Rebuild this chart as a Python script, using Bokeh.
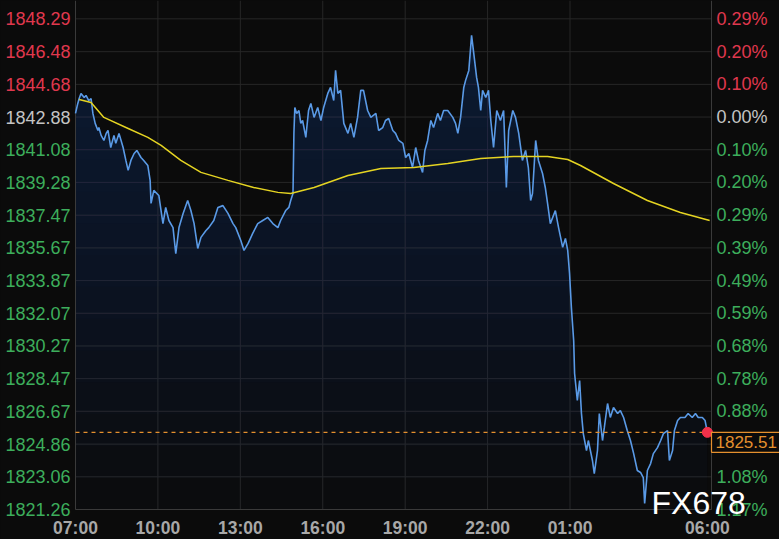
import numpy as np
from bokeh.plotting import figure
from bokeh.models import ColumnDataSource, LabelSet, Label
from bokeh.core.properties import value
from bokeh.embed import file_html
from bokeh.resources import INLINE

# ---------------- data (minutes since 07:00, gold price) ----------------
price_minutes = [
    0, 5, 8, 12, 19, 23, 29, 34, 38, 43,
    49, 51, 56, 62, 67, 71, 77, 84, 88, 95,
    104, 110, 115, 121, 128, 134, 143, 149, 158, 163,
    165, 171, 182, 191, 197, 204, 213, 219, 226, 235,
    245, 252, 259, 267, 274, 285, 291, 302, 311, 322,
    333, 344, 350, 361, 368, 377, 387, 398, 409, 420,
    431, 442, 448, 459, 466, 470, 475, 477, 479, 483,
    488, 492, 496, 503, 509, 514, 521, 529, 536, 542,
    551, 557, 564, 568, 573, 579, 586, 595, 601, 608,
    616, 623, 629, 638, 645, 656, 662, 671, 677, 684,
    693, 699, 706, 715, 721, 728, 736, 743, 749, 758,
    763, 769, 776, 782, 791, 797, 804, 813, 824, 830,
    835, 841, 848, 852, 859, 865, 869, 876, 880, 885,
    889, 896, 902, 907, 913, 920, 928, 935, 941, 946,
    955, 961, 968, 976, 983, 989, 994, 998, 1005, 1011,
    1020, 1026, 1031, 1037, 1048, 1055, 1064, 1070, 1075, 1079,
    1083, 1088, 1090, 1096, 1101, 1105, 1109, 1116, 1120, 1129,
    1133, 1140, 1144, 1151, 1155, 1162, 1168, 1175, 1184, 1190,
    1197, 1205, 1212, 1219, 1227, 1234, 1240, 1243, 1249, 1256,
    1262, 1271, 1278, 1284, 1293, 1297, 1304, 1308, 1315, 1321,
    1331, 1338, 1347, 1354, 1360, 1369, 1375, 1380,
]
price_values = [
    1843.08, 1843.63, 1843.90, 1844.18, 1843.96, 1844.07, 1843.79, 1843.90, 1843.08, 1842.53,
    1842.14, 1842.30, 1841.87, 1841.59, 1841.98, 1842.14, 1841.20, 1841.87, 1841.43, 1841.98,
    1841.20, 1840.49, 1839.94, 1840.49, 1840.87, 1841.04, 1840.65, 1840.49, 1840.21, 1839.39,
    1838.12, 1838.84, 1838.56, 1837.01, 1837.90, 1837.18, 1836.79, 1835.36, 1836.79, 1837.57,
    1838.28, 1837.73, 1837.01, 1835.64, 1836.25, 1836.63, 1836.79, 1837.18, 1837.90, 1838.00,
    1837.57, 1837.01, 1836.79, 1836.08, 1835.53, 1835.92, 1836.47, 1837.01, 1837.18, 1837.35,
    1837.01, 1836.79, 1837.18, 1837.73, 1837.90, 1838.28, 1838.67, 1841.98, 1843.41, 1843.08,
    1843.24, 1842.53, 1842.69, 1841.76, 1843.24, 1843.63, 1842.86, 1843.41, 1842.69, 1843.41,
    1844.18, 1844.51, 1843.79, 1845.45, 1844.18, 1844.35, 1842.53, 1841.98, 1842.53, 1841.76,
    1842.86, 1844.35, 1844.35, 1843.24, 1842.86, 1843.08, 1842.14, 1842.30, 1842.69, 1842.80,
    1842.14, 1841.98, 1841.59, 1841.43, 1840.65, 1840.87, 1840.10, 1841.20, 1840.49, 1839.83,
    1841.04, 1841.59, 1842.69, 1842.30, 1843.08, 1842.69, 1843.24, 1843.24, 1842.86, 1842.53,
    1841.98, 1842.86, 1844.51, 1844.90, 1845.45, 1847.38, 1846.55, 1845.06, 1844.51, 1843.24,
    1844.35, 1843.96, 1844.35, 1842.69, 1841.20, 1843.24, 1842.69, 1843.24, 1839.00, 1842.14,
    1843.24, 1842.86, 1841.98, 1840.49, 1841.04, 1840.10, 1838.28, 1838.67, 1841.59, 1840.49,
    1839.77, 1839.00, 1838.12, 1837.01, 1837.73, 1836.79, 1835.70, 1836.19, 1835.53, 1834.26,
    1832.39, 1830.57, 1828.75, 1827.27, 1828.36, 1826.55, 1825.44, 1824.51, 1825.06, 1823.96,
    1823.24, 1824.51, 1826.55, 1825.06, 1825.78, 1827.10, 1826.33, 1826.88, 1826.55, 1826.71,
    1826.33, 1825.61, 1825.06, 1824.34, 1823.41, 1823.30, 1823.02, 1821.59, 1823.41, 1823.79,
    1824.34, 1824.67, 1825.06, 1825.44, 1825.61, 1823.96, 1824.51, 1825.61, 1826.16, 1826.33,
    1826.33, 1826.55, 1826.33, 1826.55, 1826.33, 1826.33, 1826.16, 1825.51,
]

ma_minutes = [8, 34, 62, 115, 158, 187, 230, 274, 333, 389, 442, 470, 521,
              595, 667, 739, 813, 885, 957, 1031, 1075, 1103, 1175, 1249, 1321, 1385]
ma_values = [1843.85, 1843.68, 1842.86, 1842.25, 1841.76, 1841.32, 1840.49, 1839.83,
             1839.39, 1839.00, 1838.73, 1838.67, 1839.00, 1839.66, 1840.05, 1840.10,
             1840.32, 1840.60, 1840.71, 1840.71, 1840.54, 1840.21, 1839.22, 1838.28,
             1837.62, 1837.18]

base_price = 1842.88
last_price = 1825.51

y_ticks = [1848.29, 1846.48, 1844.68, 1842.88, 1841.08, 1839.28, 1837.47, 1835.67,
           1833.87, 1832.07, 1830.27, 1828.47, 1826.67, 1824.86, 1823.06, 1821.26]
y_tick_labels = ["1848.29", "1846.48", "1844.68", "1842.88", "1841.08", "1839.28",
                 "1837.47", "1835.67", "1833.87", "1832.07", "1830.27", "1828.47",
                 "1826.67", "1824.86", "1823.06", "1821.26"]
pct_labels = ["0.29%", "0.20%", "0.10%", "0.00%", "0.10%", "0.20%", "0.29%", "0.39%",
              "0.49%", "0.59%", "0.68%", "0.78%", "0.88%", "0.98%", "1.08%", "1.17%"]

time_ticks = [0, 180, 360, 540, 720, 900, 1080, 1380]
time_labels = ["07:00", "10:00", "13:00", "16:00", "19:00", "22:00", "01:00", "06:00"]

# ---------------- layout (pixels) ----------------
W, H = 779, 539
CH_L, CH_R, CH_T, CH_B = 75, 711, 0, 509          # chart area inside the canvas
x_lo, x_hi = 0, 1389                              # minutes shown in the chart area
y_lo, y_hi = 1821.26, 1849.30                     # prices shown in the chart area

sx = (CH_R - CH_L) / (x_hi - x_lo)
sy = (CH_B - CH_T) / (y_hi - y_lo)
x_range = (x_lo - CH_L / sx, x_hi + (W - CH_R) / sx)
y_range = (y_lo - (H - CH_B) / sy, y_hi + CH_T / sy)


def px_x(px):
    return x_range[0] + px / sx


def px_y(py):
    return y_range[1] - py / sy


# ---------------- styling ----------------
BG = "#0b0b0b"
RED = "#e0384e"
GREEN = "#3dae5c"
NEUTRAL = "#c4c4c4"
TIME_C = "#a8a8a8"
ORANGE = "#e5902e"
BLUE = "#5a9ae6"
YELLOW = "#e5d422"
GRID = "#272727"
EDGE = "#3a3a3a"
FONT = "Liberation Sans"

p = figure(width=W, height=H, x_range=x_range, y_range=y_range,
           toolbar_location=None, output_backend="svg",
           x_axis_location=None, y_axis_location=None,
           background_fill_color=BG, border_fill_color=BG, outline_line_color=None,
           min_border=0, min_border_left=0, min_border_right=0,
           min_border_top=0, min_border_bottom=0)
p.grid.visible = False

# grid lines
p.segment(x0=[x_lo] * len(y_ticks), y0=y_ticks, x1=[x_hi] * len(y_ticks), y1=y_ticks,
          line_color=GRID, line_width=1)
vt = time_ticks[1:-1]
p.segment(x0=vt, y0=[y_lo] * len(vt), x1=vt, y1=[y_hi] * len(vt),
          line_color=GRID, line_width=1)

# gradient-like area under the price line
xs = np.array(price_minutes, dtype=float)
ys = np.array(price_values, dtype=float)
n_layers = 16
for k in range(n_layers):
    lev = y_lo + (y_hi - y_lo) * k / n_layers
    p.varea(x=xs, y1=np.full_like(ys, lev), y2=np.maximum(ys, lev),
            fill_color="#2f4a70", fill_alpha=0.033)

# chart edges
p.segment(x0=[x_lo, x_hi, x_lo], y0=[y_lo, y_lo, y_lo], x1=[x_lo, x_hi, x_hi],
          y1=[y_hi, y_hi, y_lo], line_color=EDGE, line_width=1)

p.line(xs, ys, line_color=BLUE, line_width=1.6)
p.line(ma_minutes, ma_values, line_color=YELLOW, line_width=1.5)

# last price dashed line + marker
p.line([x_lo, price_minutes[-1]], [last_price, last_price], line_color=ORANGE,
       line_width=1.2, line_dash="4 4")
p.scatter([price_minutes[-1]], [last_price], size=10, fill_color="#f2304a",
          line_color="#f2304a")


# coloured axis labels
def tick_color(v):
    if v > base_price + 1e-9:
        return RED
    if v < base_price - 1e-9:
        return GREEN
    return NEUTRAL


colors = [tick_color(v) for v in y_ticks]
left_src = ColumnDataSource(dict(x=[x_lo] * len(y_ticks), y=y_ticks,
                                 text=y_tick_labels, color=colors))
right_src = ColumnDataSource(dict(x=[x_hi] * len(y_ticks), y=y_ticks,
                                  text=pct_labels, color=colors))
p.add_layout(LabelSet(x="x", y="y", text="text", source=left_src, x_offset=-5,
                      text_align="right", text_baseline="middle", text_color="color",
                      text_font=value(FONT), text_font_size="18px"))
p.add_layout(LabelSet(x="x", y="y", text="text", source=right_src, x_offset=5,
                      text_align="left", text_baseline="middle", text_color="color",
                      text_font=value(FONT), text_font_size="18px"))

time_src = ColumnDataSource(dict(x=time_ticks, y=[px_y(527)] * len(time_ticks),
                                 text=time_labels))
p.add_layout(LabelSet(x="x", y="y", text="text", source=time_src,
                      text_align="center", text_baseline="middle", text_color=TIME_C,
                      text_font=value(FONT), text_font_size="17.5px",
                      text_font_style="bold"))

# last price tag
p.add_layout(Label(x=x_hi, y=last_price, text=f"{last_price:.2f}", text_align="left",
                   text_baseline="top", text_color=ORANGE, text_font=FONT,
                   text_font_size="17px", border_line_color=ORANGE, border_line_width=1.2,
                   background_fill_color=BG, padding=4))

# watermark
p.add_layout(Label(x=px_x(651), y=px_y(502), text="FX678", text_align="left",
                   text_baseline="alphabetic", text_color="#ffffff", text_font=FONT,
                   text_font_size="32px"))

html = file_html(p, INLINE, title="chart")
html = html.replace("</head>", "<style>html,body{background:#0b0b0b;}</style></head>", 1)
open("out.html", "w").write(html)
